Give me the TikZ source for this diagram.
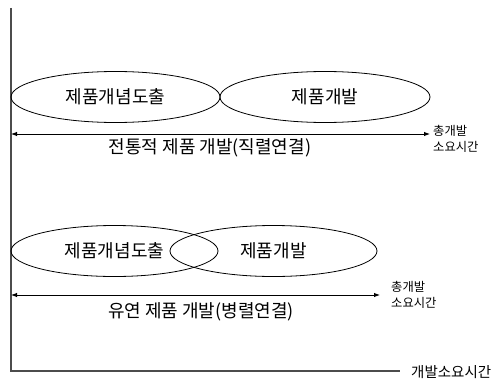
\documentclass[tikz,border=0pt]{standalone}
\usepackage{fontspec}
\setmainfont{Noto Sans CJK KR}
\usetikzlibrary{shapes.geometric,arrows.meta}
\begin{document}
\begin{tikzpicture}[x=1pt,y=-1pt,
  phase/.style={ellipse,draw,line width=0.8pt,inner sep=0pt,minimum height=51pt,font=\fontsize{18}{20}\selectfont},
  span/.style={line width=0.9pt,{Latex[length=6pt,width=4.5pt]}-{Latex[length=6pt,width=4.5pt]}},
  small/.style={font=\fontsize{12.3}{15.5}\selectfont,align=left,anchor=west,inner sep=0pt},
  big/.style={font=\fontsize{18}{20}\selectfont,inner sep=0pt},
  axis/.style={line width=1.2pt,draw=black!70}]
\useasboundingbox (0,0) rectangle (502,385);
% axes
\coordinate (top) at (11,8);
\coordinate (org) at (11,371);
\coordinate (xend) at (400,371);
\draw[axis] (top) -- (org) -- (xend);
\node[anchor=west,inner sep=0pt,font=\fontsize{14.5}{16}\selectfont] (xlab) at (411,372) {개발소요시간};
% traditional (serial)
\node[phase,minimum width=209pt] (c1) at (115.5,97) {제품개념도출};
\node[phase,minimum width=210pt] (d1) at (325,97) {제품개발};
\coordinate (s1L) at (11,134);
\coordinate (s1R) at (430,134);
\draw[span] (s1L) -- (s1R);
\node[big] (l1) at (210,148) {전통적 제품 개발(직렬연결)};
\node[small] (t1) at (433,139) {총개발\\소요시간};
% flexible (parallel)
\node[phase,minimum width=207pt] (c2) at (114.5,251) {제품개념도출};
\node[phase,minimum width=207pt] (d2) at (273.5,251) {제품개발};
\coordinate (s2L) at (11,295);
\coordinate (s2R) at (380,295);
\draw[span] (s2L) -- (s2R);
\node[big] (l2) at (201,312) {유연 제품 개발(병렬연결)};
\node[small] (t2) at (391,295) {총개발\\소요시간};
\end{tikzpicture}
\end{document}
